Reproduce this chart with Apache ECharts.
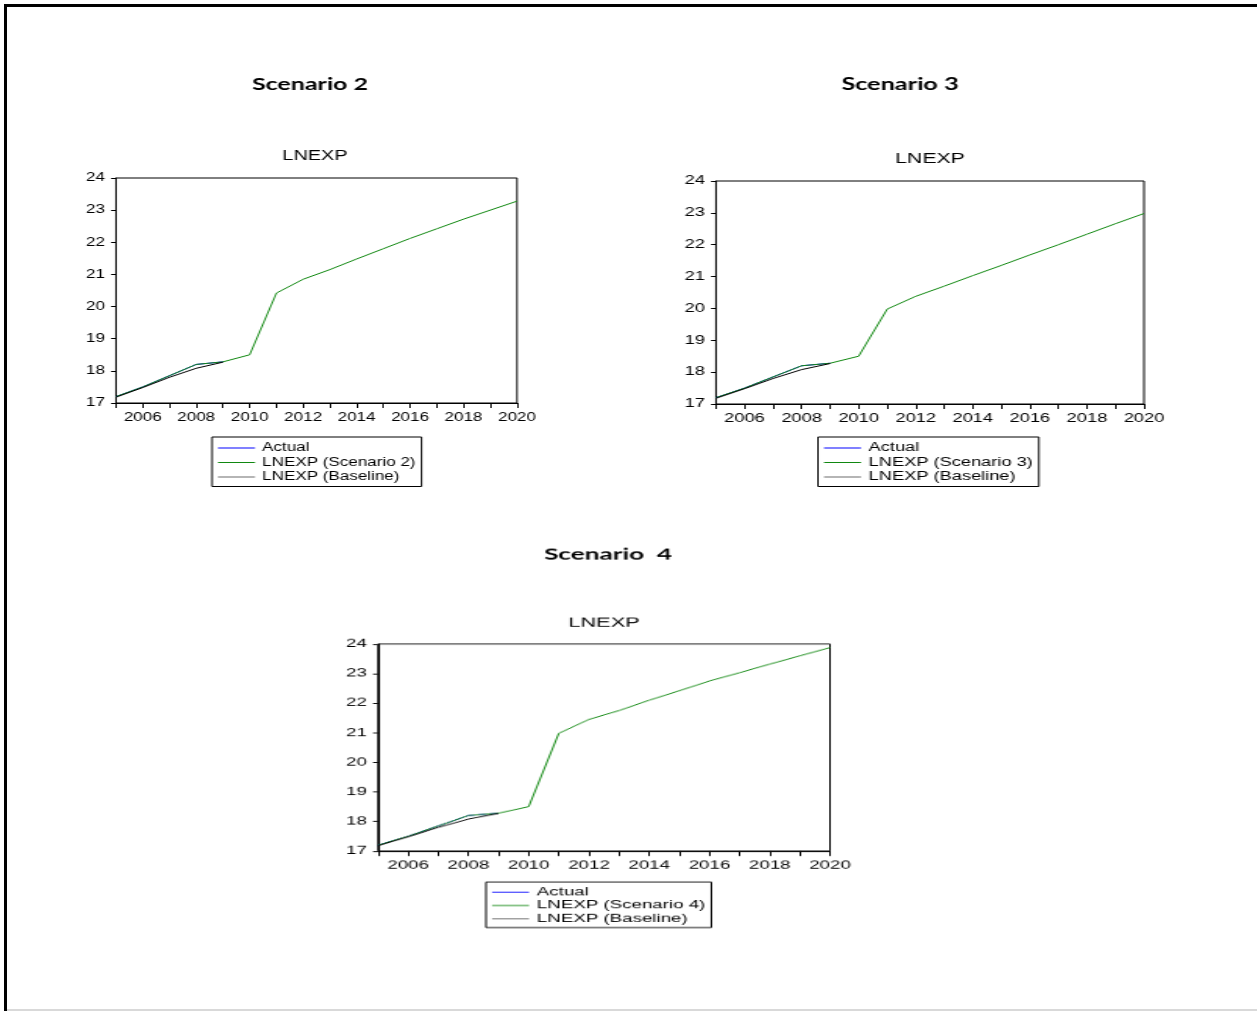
<!DOCTYPE html>
<html>
<head>
<meta charset="utf-8">
<script src="https://cdn.jsdelivr.net/npm/echarts@6/dist/echarts.min.js"></script>
<style>
    html, body { margin: 0; padding: 0; background: #fff; }
    #page { position: relative; width: 1257px; height: 1011px; overflow: hidden; }
    .panel { position: absolute; transform-origin: 0 0; }
</style>
</head>
<body>
<div id="page">
    <div id="frame" class="panel" style="left:0;top:0;width:1257px;height:1011px"></div>
</div>
<script>
//年份
let years = [2005, 2006, 2007, 2008, 2009, 2010, 2011, 2012, 2013, 2014, 2015, 2016, 2017, 2018, 2019, 2020]
//实际值（到2009年）
let actual = [17.2, 17.5, 17.85, 18.2, 18.28]
//基准
let baseline = [17.18, 17.48, 17.8, 18.08, 18.27]
//情景 2
let scenario2 = [17.2, 17.5, 17.85, 18.2, 18.28, 18.5, 20.42, 20.85, 21.15, 21.48, 21.8, 22.12, 22.42, 22.72, 23.0, 23.28]
//情景 3
let scenario3 = [17.2, 17.5, 17.85, 18.2, 18.28, 18.5, 19.98, 20.38, 20.7, 21.03, 21.35, 21.68, 22.0, 22.33, 22.66, 22.98]
//情景 4
let scenario4 = [17.2, 17.5, 17.85, 18.2, 18.28, 18.5, 20.98, 21.45, 21.75, 22.1, 22.42, 22.75, 23.03, 23.32, 23.6, 23.88]
//y轴刻度
let yMin = 17, yMax = 24, yStep = 1

let blue = '#0000ff'
let green = '#118811'
let black = '#000000'
let legendGray = '#6a6a6a'
let font = 'Liberation Sans, Arial, sans-serif'
let headFont = 'Lato, Open Sans, sans-serif'

function pairs(vals){
    return vals.map((v, i) => [years[i], v])
}

//外框
let frameChart = echarts.init(document.getElementById('frame'))
frameChart.setOption({
    animation: false,
    graphic: [
        {type: 'rect', shape: {x: 4, y: 4, width: 1253, height: 3}, style: {fill: '#000'}},
        {type: 'rect', shape: {x: 4, y: 4, width: 3, height: 1007}, style: {fill: '#000'}},
        {type: 'rect', shape: {x: 7, y: 1009, width: 1250, height: 2}, style: {fill: '#d9d9d9'}}
    ]
})

//三个小图（原图被横向拉伸，这里用 sx/sy 还原）
let panels = [
    {name: 'Scenario 2', head: 'Scenario 2', data: scenario2,
        box: {x: 60, y: 50, w: 500, h: 450}, sx: 1.42, sy: 1.0, headSize: 17.6,
        plot: [116, 178, 517, 403], headPos: [310, 86], titlePos: [315, 157], legendPos: [212, 437]},
    {name: 'Scenario 3', head: 'Scenario 3', data: scenario3,
        box: {x: 650, y: 50, w: 560, h: 450}, sx: 1.52, sy: 1.0, headSize: 16.6,
        plot: [716, 181, 1144, 404], headPos: [900, 86], titlePos: [930, 160], legendPos: [818, 437]},
    {name: 'Scenario 4', head: 'Scenario  4', data: scenario4,
        box: {x: 330, y: 520, w: 560, h: 420}, sx: 1.56, sy: 0.92, headSize: 16.8,
        plot: [378, 644, 830, 851], headPos: [608, 556], titlePos: [604, 624], legendPos: [486, 882]}
]

panels.forEach((p, k) => {
    let div = document.createElement('div')
    div.className = 'panel'
    div.style.left = p.box.x + 'px'
    div.style.top = p.box.y + 'px'
    div.style.width = (p.box.w / p.sx) + 'px'
    div.style.height = (p.box.h / p.sy) + 'px'
    div.style.transform = 'scale(' + p.sx + ',' + p.sy + ')'
    document.getElementById('page').appendChild(div)

    //页面坐标 -> 本图坐标
    let nx = x => (x - p.box.x) / p.sx
    let ny = y => (y - p.box.y) / p.sy

    let sName = 'LNEXP (' + p.name + ')'
    let common = {type: 'line', showSymbol: false, symbol: 'none', silent: true}

    let option = {
        backgroundColor: 'transparent',
        animation: false,
        title: [
            {text: p.head, left: nx(p.headPos[0]), top: ny(p.headPos[1]) - p.headSize * 0.6, textAlign: 'center', padding: 0,
                textStyle: {fontFamily: headFont, fontWeight: 'bold', fontSize: p.headSize, color: '#000'}},
            {text: 'LNEXP', left: nx(p.titlePos[0]), top: ny(p.titlePos[1]) - 8, textAlign: 'center', padding: 0,
                textStyle: {fontFamily: font, fontWeight: 'normal', fontSize: 14, color: '#000'}}
        ],
        grid: {
            left: nx(p.plot[0]), top: ny(p.plot[1]),
            width: (p.plot[2] - p.plot[0]) / p.sx, height: (p.plot[3] - p.plot[1]) / p.sy,
            show: true, borderColor: '#000', borderWidth: 1, backgroundColor: 'transparent'
        },
        xAxis: {
            type: 'value', min: years[0], max: years[years.length - 1], interval: 1,
            axisLine: {lineStyle: {color: '#000', width: 1}},
            axisTick: {show: true, length: 5 / p.sy, lineStyle: {color: '#000'}},
            splitLine: {show: false},
            axisLabel: {
                color: '#000', fontFamily: font, fontSize: 12, margin: 9 / p.sy,
                formatter: v => (v % 2 === 0 ? String(v) : '')
            }
        },
        yAxis: {
            type: 'value', min: yMin, max: yMax, interval: yStep,
            axisLine: {show: true, lineStyle: {color: '#000', width: 1}},
            axisTick: {show: true, length: 5 / p.sx, lineStyle: {color: '#000'}},
            splitLine: {show: false},
            axisLabel: {color: '#000', fontFamily: font, fontSize: 12, margin: 11 / p.sx}
        },
        legend: {
            left: nx(p.legendPos[0]), top: ny(p.legendPos[1]), orient: 'vertical',
            data: [
                {name: 'Actual', itemStyle: {color: blue}},
                {name: sName, itemStyle: {color: green}},
                {name: 'LNEXP (Baseline)', itemStyle: {color: legendGray}}
            ],
            icon: 'rect', itemWidth: 37 / p.sx, itemHeight: 1, itemGap: 0.5,
            borderColor: '#000', borderWidth: 1, padding: [4, 6 / p.sx, 2.5, 6 / p.sx],
            selectedMode: false,
            textStyle: {fontFamily: font, fontSize: 12, lineHeight: 14, color: '#000'}
        },
        series: [
            Object.assign({name: 'Actual', data: pairs(actual), color: blue, lineStyle: {color: blue, width: 1}}, common),
            Object.assign({name: sName, data: pairs(p.data), color: green, lineStyle: {color: green, width: 1}}, common),
            Object.assign({name: 'LNEXP (Baseline)', data: pairs(baseline), color: black, lineStyle: {color: black, width: 1}}, common)
        ]
    }
    let myChart = echarts.init(div)
    myChart.setOption(option)
})
</script>
</body>
</html>
